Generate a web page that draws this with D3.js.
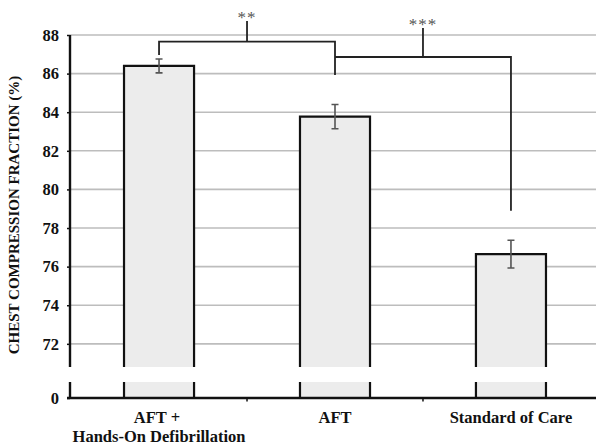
<!DOCTYPE html>
<html><head><meta charset="utf-8">
<script src="https://cdn.jsdelivr.net/npm/d3@7/dist/d3.min.js"></script>
<style>
html,body{margin:0;padding:0;background:#fff;}
svg{display:block;}
text{font-family:"Liberation Serif","Times New Roman",serif;}
</style></head>
<body>
<script>
// ---- data ----
const categories = ["AFT + |Hands-On Defibrillation", "AFT", "Standard of Care"];
const means = [86.4, 83.77, 76.65];
const errors = [0.36, 0.63, 0.72];
const yTicks = [72, 74, 76, 78, 80, 82, 84, 86, 88];
const yTitle = "CHEST COMPRESSION FRACTION (%)";
// significance brackets
const bracketFrom = [0, 1];
const bracketTo = [1, 2];
const bracketLevel = [87.66, 86.86];
const bracketLeftEnd = [86.96, 86.86];
const bracketRightEnd = [85.93, 78.9];
const bracketApex = [88.72, 88.36];
const bracketLabels = ["**", "***"];

// ---- layout ----
const W = 596, H = 445;
const svg = d3.select("body").append("svg").attr("width", W).attr("height", H);

const x = d3.scaleBand().domain(d3.range(categories.length)).range([70, 600])
  .paddingInner(0.602).paddingOuter(0.307);
const yTop = d3.scaleLinear().domain([70.8, 88]).range([367, 35]);
const yBot = d3.scaleLinear().domain([0, 0.83]).range([398, 382]);

// gridlines
svg.append("g").selectAll("line").data(yTicks).join("line")
  .attr("x1", 70).attr("x2", W)
  .attr("y1", d => yTop(d)).attr("y2", d => yTop(d))
  .attr("stroke", "#bdbdbd").attr("stroke-width", 1.6);

const barFill = "#ececec";
const bars = svg.append("g");
means.forEach((m, i) => {
  const x0 = x(i), x1 = x(i) + x.bandwidth();
  bars.append("rect").attr("x", x0).attr("y", yTop(m)).attr("width", x.bandwidth())
    .attr("height", yTop(70.8) - yTop(m)).attr("fill", barFill);
  bars.append("path")
    .attr("d", `M${x0},${yTop(70.8)}V${yTop(m)}H${x1}V${yTop(70.8)}`)
    .attr("fill", "none").attr("stroke", "#111").attr("stroke-width", 2.2);
  bars.append("rect").attr("x", x0).attr("y", yBot(0.83)).attr("width", x.bandwidth())
    .attr("height", yBot(0) - yBot(0.83)).attr("fill", barFill);
  bars.append("path")
    .attr("d", `M${x0},${yBot(0.83)}V${yBot(0)}M${x1},${yBot(0.83)}V${yBot(0)}`)
    .attr("fill", "none").attr("stroke", "#111").attr("stroke-width", 2.2);
});

// error bars
const eb = svg.append("g").attr("stroke", "#555").attr("stroke-width", 1.6).attr("fill", "none");
means.forEach((m, i) => {
  const cx = x(i) + x.bandwidth() / 2;
  const t = yTop(m + errors[i]), b = yTop(m - errors[i]);
  eb.append("path").attr("d", `M${cx},${t}V${b}M${cx - 3.5},${t}H${cx + 3.5}M${cx - 3.5},${b}H${cx + 3.5}`);
});

// y axis (upper)
const axTop = svg.append("g").attr("transform", "translate(70,0)")
  .call(d3.axisLeft(yTop).tickValues(yTicks).tickSize(3).tickFormat(d3.format("d")));
axTop.select(".domain").attr("d", `M0,${yTop(88)}V${yTop(70.8)}`).attr("stroke", "#111").attr("stroke-width", 2.4);
axTop.selectAll(".tick line").attr("stroke", "#111").attr("stroke-width", 1.5);
axTop.selectAll(".tick text").attr("x", -11).attr("font-size", 16.5).attr("font-weight", "bold")
  .attr("fill", "#111").style("font-family", "Liberation Serif, serif");

// y axis (lower)
const axBot = svg.append("g").attr("transform", "translate(70,0)")
  .call(d3.axisLeft(yBot).tickValues([0]).tickSize(3).tickFormat(d3.format("d")));
axBot.select(".domain").attr("d", `M0,${yBot(0.83)}V${yBot(0)}`).attr("stroke", "#111").attr("stroke-width", 2.4);
axBot.selectAll(".tick line").attr("stroke", "#111").attr("stroke-width", 1.5);
axBot.selectAll(".tick text").attr("x", -11).attr("font-size", 16.5).attr("font-weight", "bold")
  .attr("fill", "#111").style("font-family", "Liberation Serif, serif");

// x axis (ticks at band boundaries)
const boundaries = d3.range(1, categories.length).map(i => x(i) - x.step() * x.paddingInner() / 2);
const axX = svg.append("g").attr("transform", `translate(0,${yBot(0)})`);
axX.append("path").attr("d", `M67,0H${W}`).attr("stroke", "#111").attr("stroke-width", 2.4);
axX.selectAll("line").data(boundaries).join("line")
  .attr("x1", d => d).attr("x2", d => d).attr("y1", 0).attr("y2", 3.5)
  .attr("stroke", "#111").attr("stroke-width", 1.5);

// category labels
categories.forEach((c, i) => {
  const cx = x(i) + x.bandwidth() / 2;
  const t = svg.append("text").attr("x", cx).attr("y", 423).attr("text-anchor", "middle")
    .attr("font-size", 16.5).attr("font-weight", "bold").attr("fill", "#111");
  c.split("|").forEach((line, k) => {
    t.append("tspan").attr("x", cx).attr("dy", k === 0 ? 0 : 19).text(line);
  });
});

// y title
svg.append("text").attr("transform", `translate(19,215) rotate(-90)`)
  .attr("text-anchor", "middle").attr("font-size", 15).attr("font-weight", "bold")
  .attr("fill", "#111").text(yTitle);

// significance brackets
const br = svg.append("g").attr("stroke", "#222").attr("stroke-width", 1.8).attr("fill", "none");
bracketLabels.forEach((lab, k) => {
  const xl = x(bracketFrom[k]) + x.bandwidth() / 2;
  const xr = x(bracketTo[k]) + x.bandwidth() / 2;
  const yl = yTop(bracketLevel[k]);
  br.append("path").attr("d",
    `M${xl},${yTop(bracketLeftEnd[k])}V${yl}H${xr}V${yTop(bracketRightEnd[k])}`);
  const xm = (xl + xr) / 2;
  br.append("path").attr("d", `M${xm},${yl}V${yTop(bracketApex[k])}`);
  svg.append("text").attr("x", xm).attr("y", yTop(bracketApex[k]) + 2)
    .attr("text-anchor", "middle").attr("font-size", 17).attr("fill", "#555")
    .style("letter-spacing", "1px").text(lab);
});
</script>
</body></html>
